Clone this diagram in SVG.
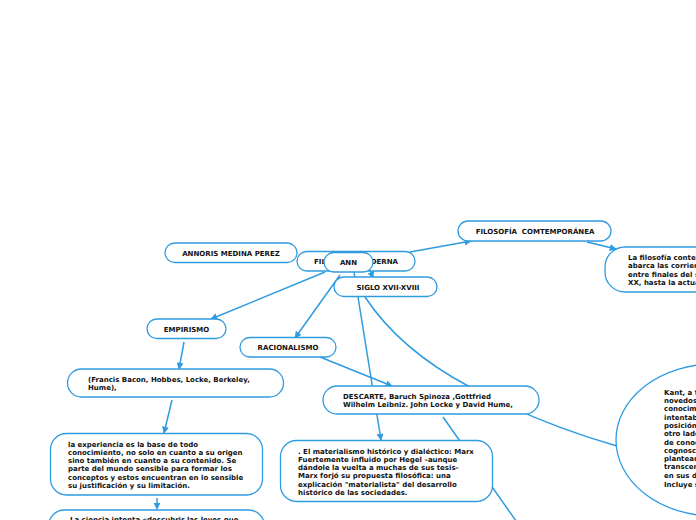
<svg xmlns="http://www.w3.org/2000/svg" width="696" height="520" viewBox="0 0 696 520">
<style>
.n{fill:#fff;stroke:#2f9be0;stroke-width:1.3}
.t{font-family:"DejaVu Sans",Verdana,sans-serif;font-weight:bold;font-size:7px;fill:#111;white-space:pre}
.c{text-anchor:middle}
.l{fill:none;stroke:#2f9be0;stroke-width:1.5}
</style>
<defs>
<marker id="a" viewBox="0 0 10 10" refX="9" refY="5" markerWidth="7" markerHeight="7" markerUnits="userSpaceOnUse" orient="auto">
<path d="M0,0 L10,5 L0,10 z" fill="#2f9be0"/>
</marker>
</defs>
<rect width="696" height="520" fill="#fff"/>
<g id="connectors">
<line class="l" x1="410" y1="252" x2="471" y2="241" marker-end="url(#a)"/>
<line class="l" x1="587" y1="242" x2="616" y2="249" marker-end="url(#a)"/>
<line class="l" x1="325" y1="272" x2="211" y2="319" marker-end="url(#a)"/>
<line class="l" x1="340" y1="275" x2="295" y2="338" marker-end="url(#a)"/>
<line class="l" x1="370" y1="270" x2="373" y2="278" marker-end="url(#a)"/>
<line class="l" x1="354" y1="272" x2="381" y2="440" marker-end="url(#a)"/>
<path class="l" d="M365,297 Q400,350 470,387 T617,446"/>
<line class="l" x1="443" y1="417" x2="521" y2="528"/>
<line class="l" x1="320" y1="357" x2="392" y2="386" marker-end="url(#a)"/>
<line class="l" x1="184" y1="342" x2="179" y2="369" marker-end="url(#a)"/>
<line class="l" x1="172" y1="400" x2="164" y2="433" marker-end="url(#a)"/>
<line class="l" x1="157" y1="498" x2="157" y2="509" marker-end="url(#a)"/>
</g>
<g id="annoris">
<rect class="n" x="165" y="243" width="132" height="19.5" rx="9.75"/>
<text class="t c" x="231" y="255.5">ANNORIS MEDINA PEREZ</text>
</g>
<g id="moderna">
<rect class="n" x="297" y="251.5" width="118" height="19.5" rx="9.75"/>
<text class="t c" x="356" y="264">FILOSOFÍA MODERNA</text>
</g>
<g id="ann">
<rect class="n" x="324" y="252.5" width="49" height="19.5" rx="9.75"/>
<text class="t c" x="348.5" y="265">ANN</text>
</g>
<g id="siglo">
<rect class="n" x="334" y="277" width="103" height="19.5" rx="9.75"/>
<text class="t c" x="388" y="289.5">SIGLO XVII-XVIII</text>
</g>
<g id="contemporanea">
<rect class="n" x="458" y="221" width="153" height="20" rx="10"/>
<text class="t c" x="535" y="234">FILOSOFÍA  COMTEMPORÁNEA</text>
</g>
<g id="filosofia-def">
<rect class="n" x="605" y="247" width="140" height="45" rx="20"/>
<text class="t" x="628" y="259.8">La filosofía contemporánea</text>
<text class="t" x="628" y="268.2">abarca las corrientes</text>
<text class="t" x="628" y="276.5">entre finales del siglo</text>
<text class="t" x="628" y="284.8">XX, hasta la actualidad.</text>
</g>
<g id="empirismo">
<rect class="n" x="147" y="319" width="79" height="19.5" rx="9.75"/>
<text class="t c" x="186.5" y="331.5">EMPIRISMO</text>
</g>
<g id="racionalismo">
<rect class="n" x="240" y="337.5" width="96" height="19.5" rx="9.75"/>
<text class="t c" x="288" y="350">RACIONALISMO</text>
</g>
<g id="francis">
<rect class="n" x="67.5" y="369" width="216" height="28" rx="14"/>
<text class="t" x="88" y="381.5">(Francis Bacon, Hobbes, Locke, Berkeley,</text>
<text class="t" x="88" y="390">Hume),</text>
</g>
<g id="experiencia">
<rect class="n" x="50.5" y="433.5" width="212" height="61.5" rx="16"/>
<text class="t" x="68" y="446.5">la experiencia es la base de todo</text>
<text class="t" x="68" y="454.8">conocimiento, no solo en cuanto a su origen</text>
<text class="t" x="68" y="463.1">sino también en cuanto a su contenido. Se</text>
<text class="t" x="68" y="471.4">parte del mundo sensible para formar los</text>
<text class="t" x="68" y="479.7">conceptos y estos encuentran en lo sensible</text>
<text class="t" x="68" y="488">su justificación y su limitación.</text>
</g>
<g id="ciencia">
<rect class="n" x="48.5" y="510" width="216" height="40" rx="16"/>
<text class="t" x="70" y="521.8">La ciencia intenta «descubrir las leyes que</text>
</g>
<g id="descarte">
<rect class="n" x="323" y="386" width="216" height="28" rx="14"/>
<text class="t" x="343" y="398.5">DESCARTE, Baruch Spinoza ,Gottfried</text>
<text class="t" x="343" y="407">Wilhelm Leibniz. John Locke y David Hume,</text>
</g>
<g id="materialismo">
<rect class="n" x="280.5" y="440.5" width="212" height="61" rx="16"/>
<text class="t" x="298" y="453.5">. El materialismo histórico y dialéctico: Marx</text>
<text class="t" x="298" y="461.8">Fuertemente influido por Hegel –aunque</text>
<text class="t" x="298" y="470.1">dándole la vuelta a muchas de sus tesis-</text>
<text class="t" x="298" y="478.4">Marx forjó su propuesta filosófica: una</text>
<text class="t" x="298" y="486.7">explicación "materialista" del desarrollo</text>
<text class="t" x="298" y="495">histórico de las sociedades.</text>
</g>
<g id="kant">
<ellipse class="n" cx="714" cy="440" rx="98" ry="76"/>
<text class="t" x="664" y="394.5">Kant, a través de su</text>
<text class="t" x="664" y="403">novedoso sistema</text>
<text class="t" x="664" y="411.3">conocimiento</text>
<text class="t" x="664" y="419.6">intentaba superar la</text>
<text class="t" x="664" y="427.9">posición racionalista</text>
<text class="t" x="664" y="436.2">otro lado empirista</text>
<text class="t" x="664" y="444.5">de conocimiento</text>
<text class="t" x="664" y="452.8">cognoscente</text>
<text class="t" x="664" y="461.1">plantearon</text>
<text class="t" x="664" y="469.4">transcendental</text>
<text class="t" x="664" y="477.7">en sus dos</text>
<text class="t" x="664" y="487">Incluye su</text>
</g>
</svg>
